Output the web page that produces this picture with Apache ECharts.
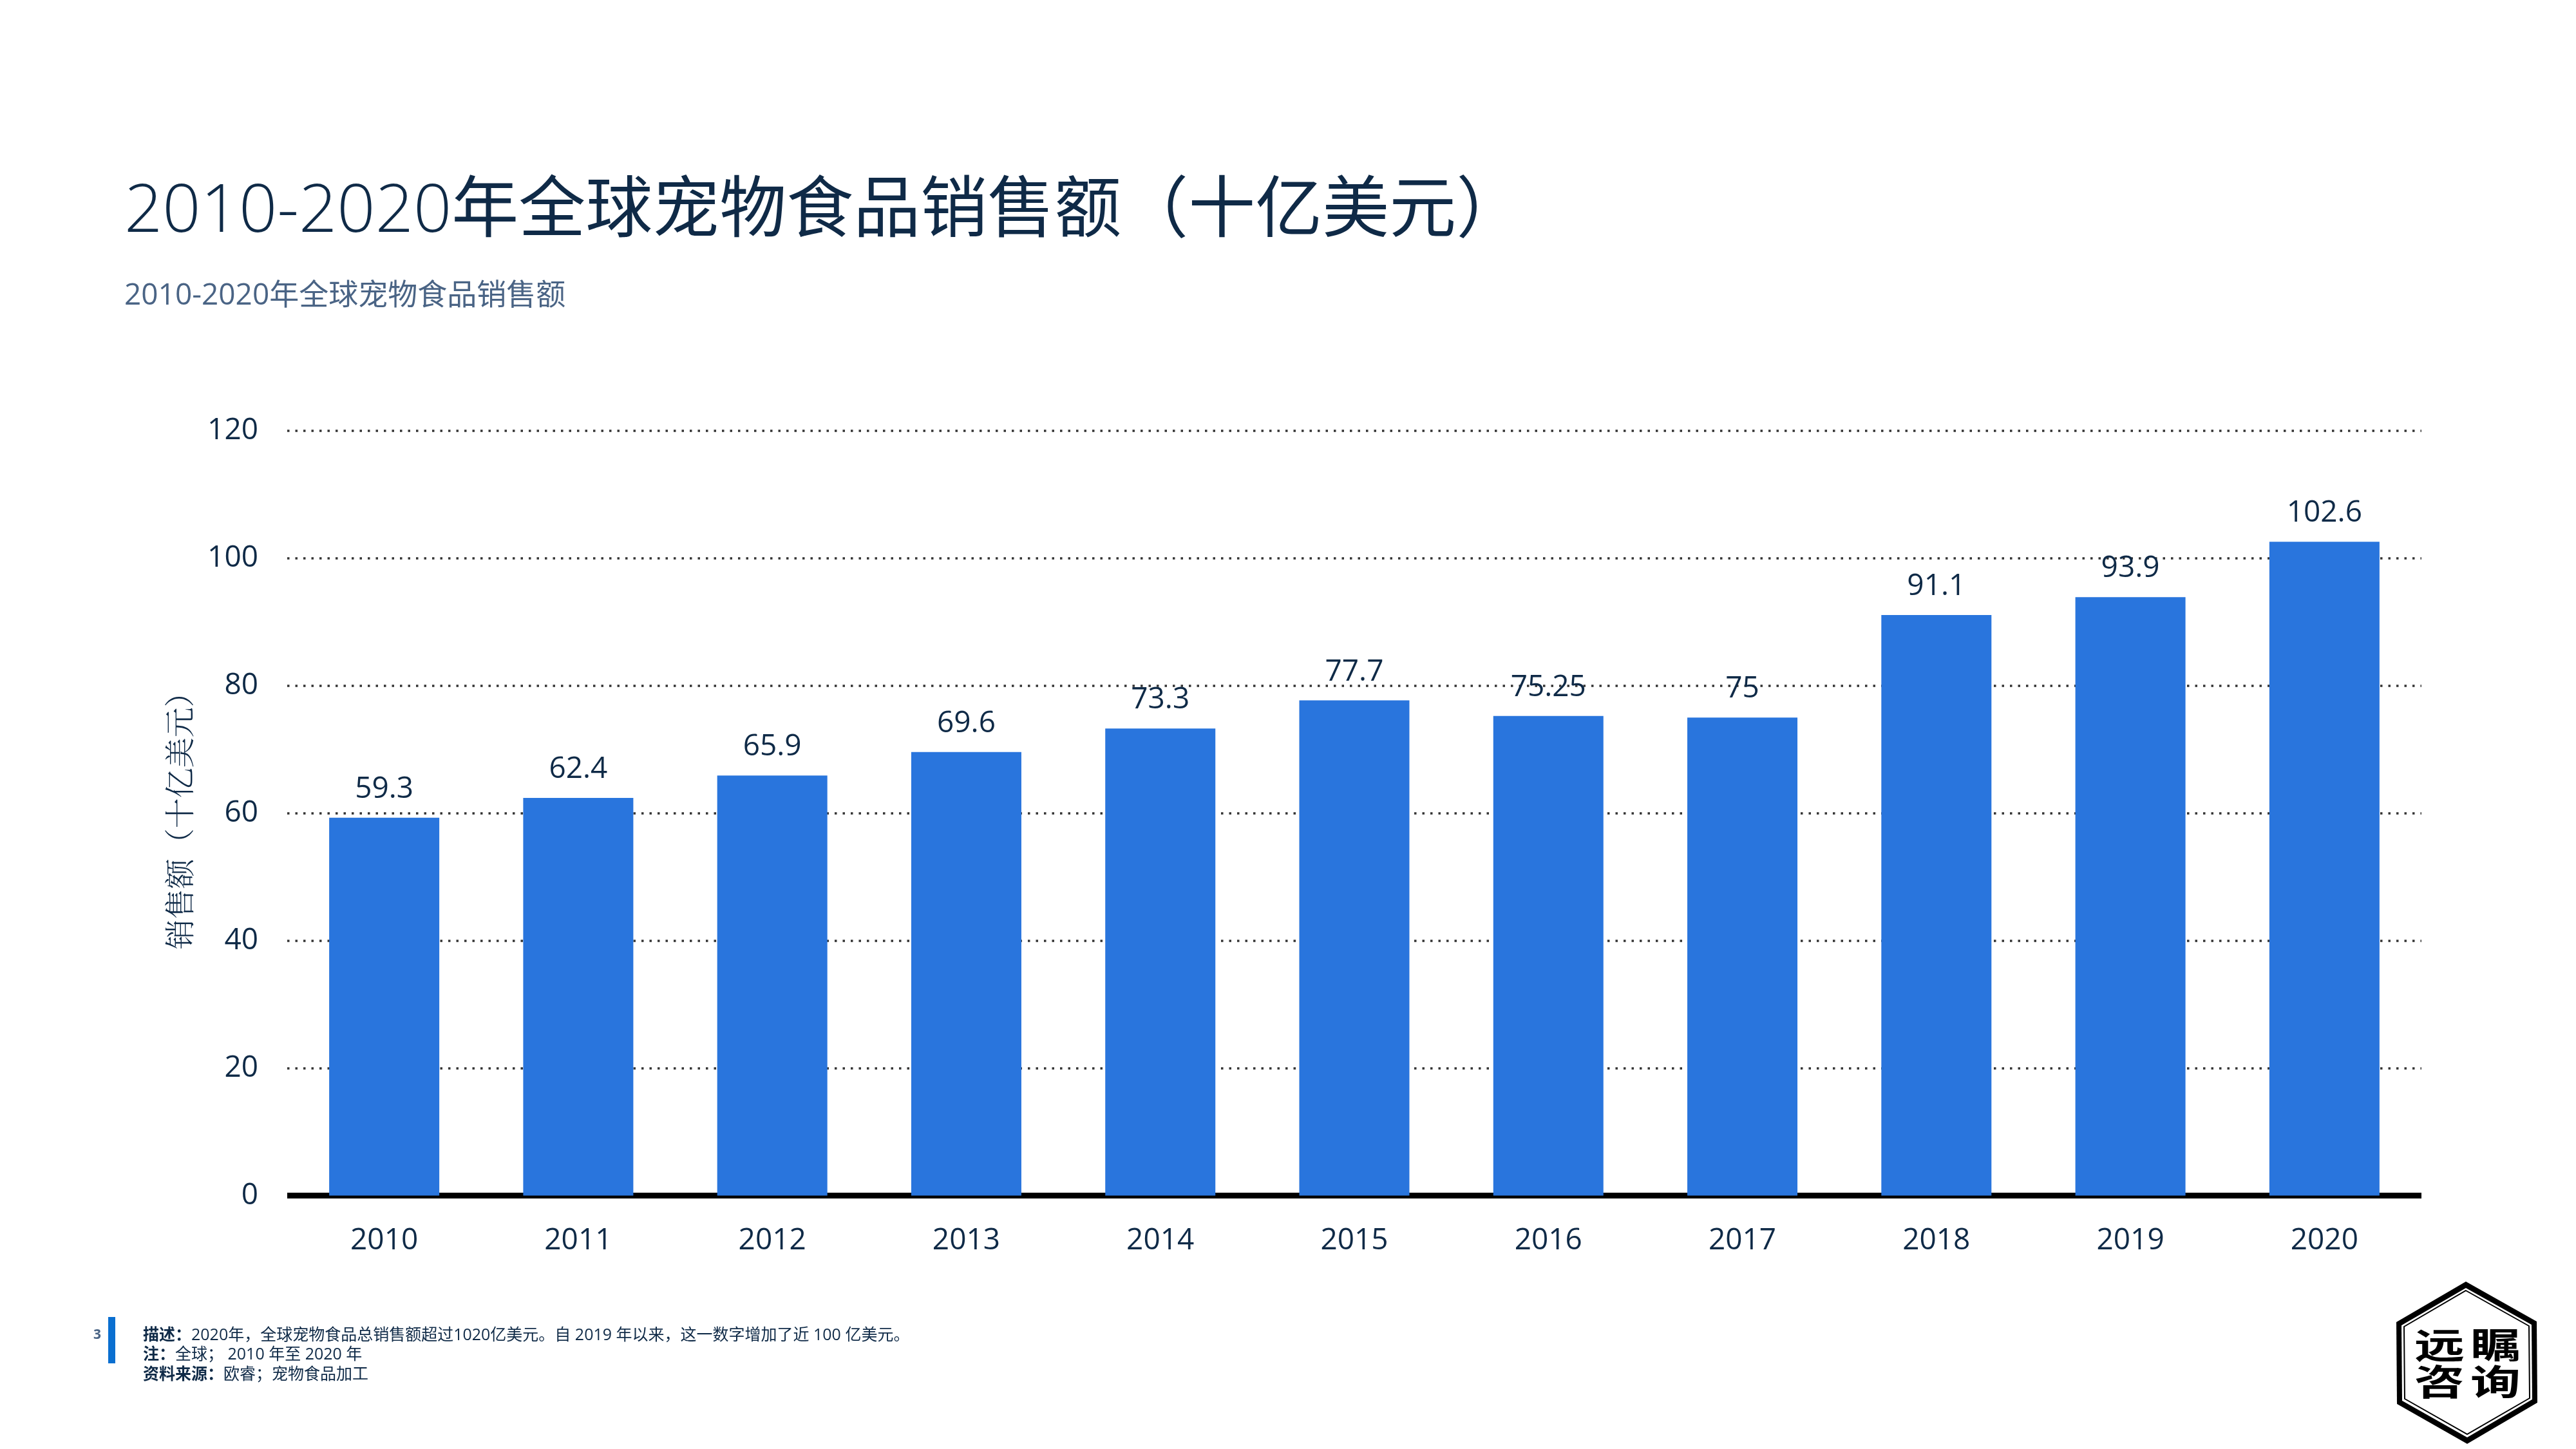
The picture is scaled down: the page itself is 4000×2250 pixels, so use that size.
<!DOCTYPE html>
<html>
<head>
<meta charset="utf-8">
<title>2010-2020年全球宠物食品销售额</title>
<script src="https://cdn.jsdelivr.net/npm/echarts@6/dist/echarts.min.js"></script>
<style>
html,body{margin:0;padding:0;background:#fff;}
#main{width:4000px;height:2250px;}
</style>
</head>
<body>
<div id="main"></div>
<script>
var years = ['2010','2011','2012','2013','2014','2015','2016','2017','2018','2019','2020'];
var sales = [59.3,62.4,65.9,69.6,73.3,77.7,75.25,75,91.1,93.9,102.6];
var seriesName = '销售额（十亿美元）';

var fontName = '"Open Sans","Noto Sans CJK SC",sans-serif';
var dark = '#0f2a47';

var myChart = echarts.init(document.getElementById('main'));

// 页脚和角标
function footLine(y, head, body){
    return {
        type:'text', x:222, y:y,
        style:{
            text:'{b|'+head+'}{n|'+body+'}',
            textVerticalAlign:'bottom',
            rich:{
                b:{fontFamily:fontName,fontSize:25,fontWeight:700,fill:dark,lineHeight:30},
                n:{fontFamily:fontName,fontSize:25,fontWeight:400,fill:dark,lineHeight:30}
            }
        }
    };
}
function logoChar(x, y, ch){
    return {
        type:'text', x:x, y:y, scaleY:0.7,
        style:{
            text:ch, fill:'#000', textAlign:'center', textVerticalAlign:'middle',
            fontFamily:'"Noto Sans CJK SC"', fontSize:78, fontWeight:700
        }
    };
}

var option = {
    backgroundColor:'#fff',
    animation:false,
    title:[{
        left:193, top:260, padding:0,
        text:'{a|2010-2020}{b|年全球宠物食品销售额（十亿美元）}',
        textStyle:{
            rich:{
                a:{fontFamily:fontName,fontSize:104,fontWeight:300,color:dark,lineHeight:140},
                b:{fontFamily:fontName,fontSize:104,fontWeight:400,color:dark,lineHeight:140}
            }
        }
    },{
        left:193, top:437, padding:0,
        text:'2010-2020年全球宠物食品销售额',
        textStyle:{fontFamily:fontName,fontSize:46,fontWeight:400,color:'#4a6485'}
    }],
    grid:{left:446,right:240,top:669,bottom:393.5,containLabel:false},
    xAxis:{
        type:'category',
        data:years,
        axisLine:{show:true,lineStyle:{color:'#000',width:9,cap:'butt'}},
        axisTick:{show:false},
        axisLabel:{color:dark,fontFamily:fontName,fontSize:46,margin:47}
    },
    yAxis:{
        type:'value',
        min:0,max:120,interval:20,
        name:seriesName,
        nameLocation:'middle',
        nameGap:144,
        nameTextStyle:{color:dark,fontFamily:'"Noto Serif CJK SC","Noto Sans CJK SC"',fontSize:47,fontWeight:300},
        axisLine:{show:false},
        axisTick:{show:false},
        axisLabel:{color:dark,fontFamily:fontName,fontSize:46,margin:45},
        splitLine:{show:true,lineStyle:{color:'#333',width:3.5,type:[3.5,9]}}
    },
    series:[{
        name:seriesName,
        type:'bar',
        data:sales,
        barWidth:171,
        itemStyle:{color:'#2975dd'},
        label:{show:true,position:'top',distance:21,color:dark,fontFamily:fontName,fontSize:46}
    }],
    graphic:[
        {type:'rect',shape:{x:168,y:2045,width:11,height:72},style:{fill:'#0a6fd0'}},
        {type:'text',x:151,y:2073,style:{text:'3',fill:'#4a6485',textAlign:'center',textVerticalAlign:'middle',
            fontFamily:fontName,fontSize:21,fontWeight:700}},
        footLine(2089,'描述：','2020年，全球宠物食品总销售额超过1020亿美元。自 2019 年以来，这一数字增加了近 100 亿美元。'),
        footLine(2119,'注：','全球； 2010 年至 2020 年'),
        footLine(2150,'资料来源：','欧睿；宠物食品加工'),
        // 六边形标志
        {type:'polygon',shape:{points:[[3829,1990],[3939,2052],[3940,2178],[3831,2242],[3722,2180],[3721,2053]]},
            style:{fill:'#000'}},
        {type:'polygon',shape:{points:[[3829,2000],[3931,2057],[3932,2173],[3831,2232],[3730,2175],[3729,2058]]},
            style:{fill:'#fff'}},
        {type:'polygon',shape:{points:[[3829,2004],[3927,2059],[3928,2171],[3831,2227],[3734,2172],[3733,2060]]},
            style:{fill:'#fff',stroke:'#000',lineWidth:2}},
        logoChar(3788,2088,'远'),
        logoChar(3875,2087,'瞩'),
        logoChar(3788,2145,'咨'),
        logoChar(3875,2145,'询')
    ]
};

myChart.setOption(option);
</script>
</body>
</html>
